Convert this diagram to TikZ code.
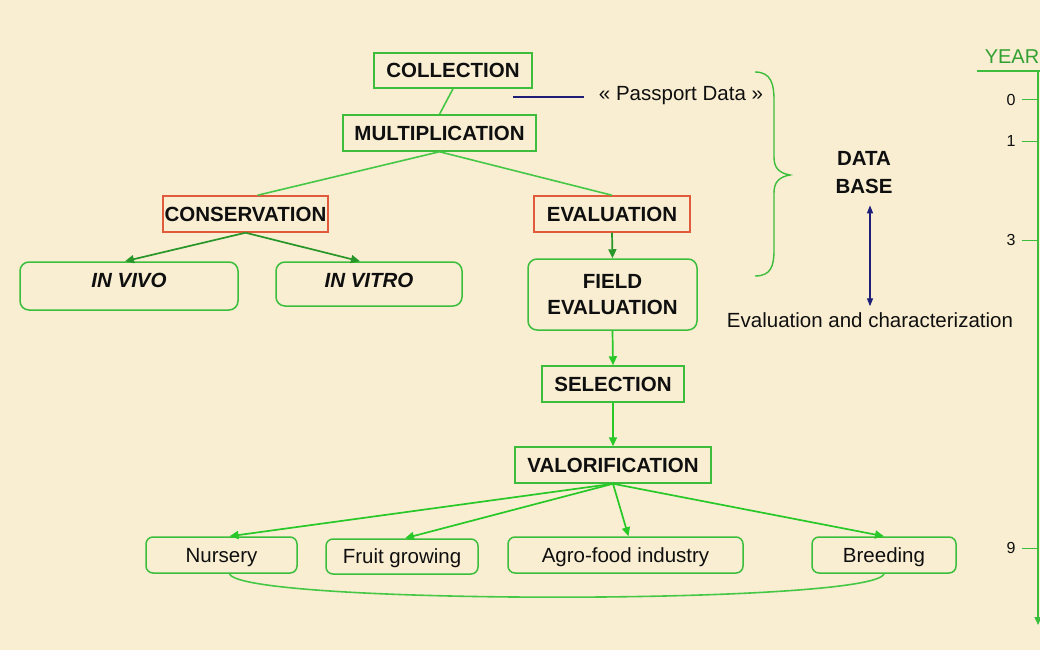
\documentclass[tikz,border=0pt]{standalone}
\usepackage{fontspec}
\setmainfont{Liberation Sans}
\usetikzlibrary{arrows.meta}
\definecolor{bg}{RGB}{249,238,210}
\definecolor{boxgreen}{RGB}{60,190,60}
\definecolor{boxred}{RGB}{225,90,60}
\definecolor{lgreen}{RGB}{70,200,70}
\definecolor{dgreen}{RGB}{40,150,40}
\definecolor{bgreen}{RGB}{40,200,40}
\definecolor{navy}{RGB}{30,30,120}
\definecolor{ink}{RGB}{15,15,15}
\definecolor{yeargreen}{RGB}{50,160,50}
\begin{document}
\begin{tikzpicture}[x=1pt,y=-1pt,
  box/.style={draw=boxgreen, line width=1.5pt, inner sep=0pt, text=ink,
    font=\fontsize{20.5}{26}\selectfont\bfseries, text height=14.5pt, text depth=0pt},
  redbox/.style={box, draw=boxred},
  rbox/.style={box, rounded corners=9pt},
  leaf/.style={draw=boxgreen, line width=1.5pt, inner sep=0pt, text=ink, rounded corners=7pt,
    font=\fontsize{20.5}{24}\selectfont, text height=14.5pt, text depth=0pt},
  plain/.style={inner sep=0pt, text=ink, font=\fontsize{20.5}{24}\selectfont},
  tick/.style={inner sep=0pt, text=ink, font=\fontsize{16}{18}\selectfont},
  link/.style={draw=lgreen, line width=1.6pt},
  arr/.style={line width=1.7pt, -{Triangle[length=9pt,width=8pt]}},
  darr/.style={arr, draw=dgreen, fill=dgreen},
  barr/.style={arr, draw=bgreen, fill=bgreen},
  navyline/.style={draw=navy, line width=1.4pt},
  axis/.style={draw=boxgreen, line width=1.4pt}
]
\fill[bg] (0,0) rectangle (1040,650);
\useasboundingbox (0,0) rectangle (1040,650);

% main chain
\node[box, minimum width=158pt, minimum height=35pt] (coll) at (453,70.5) {COLLECTION};
\node[box, minimum width=193pt, minimum height=36pt] (mult) at (439.5,133) {MULTIPLICATION};
\node[redbox, minimum width=165pt, minimum height=36pt] (cons) at (245.5,214) {CONSERVATION};
\node[redbox, minimum width=156pt, minimum height=36pt] (eval) at (612,214) {EVALUATION};
\node[rbox, font=\fontsize{20.5}{26}\selectfont\bfseries\itshape, minimum width=218pt,
  text height=25pt, text depth=23pt] (vivo) at (129,286) {IN VIVO};
\node[rbox, font=\fontsize{20.5}{26}\selectfont\bfseries\itshape, minimum width=186pt,
  text height=25pt, text depth=19pt] (vitro) at (369,284) {IN VITRO};
\node[rbox, align=center, minimum width=169pt, minimum height=71pt, text height=, text depth=]
  (field) at (612.5,294.5) {FIELD\\EVALUATION};
\node[box, minimum width=142pt, minimum height=36pt] (sel) at (613,384) {SELECTION};
\node[box, minimum width=196pt, minimum height=36pt] (valo) at (613,465) {VALORIFICATION};

% leaves
\node[leaf, minimum width=151pt, minimum height=36pt] (nurs) at (221.5,555) {Nursery};
\node[leaf, minimum width=152pt, minimum height=35pt] (fruit) at (402,556.5) {Fruit growing};
\node[leaf, minimum width=235pt, minimum height=36pt] (agro) at (625.5,555) {Agro-food industry};
\node[leaf, minimum width=144pt, minimum height=36pt] (breed) at (884,555) {Breeding};

% connectors
\draw[link] (coll.south) -- (mult.north);
\draw[link] (mult.south) -- ([xshift=12pt]cons.north);
\draw[link] (mult.south) -- (eval.north);
\draw[darr] (cons.south) -- ([xshift=-4pt]vivo.north);
\draw[darr] (cons.south) -- ([xshift=-9pt]vitro.north);
\draw[darr] (eval.south) -- (field.north);
\draw[barr] (field.south) -- (sel.north);
\draw[barr] (sel.south) -- (valo.north);
\draw[barr] (valo.south) -- ([xshift=8pt]nurs.north);
\draw[barr] (valo.south) -- ([xshift=3pt]fruit.north);
\draw[barr] (valo.south) -- ([xshift=3pt]agro.north);
\draw[barr] (valo.south) -- (breed.north);
\draw[link] ([xshift=8pt]nurs.south) .. controls (240,605) and (875,605) .. (breed.south);

% passport data
\node[plain] (pp) at (681,96) {« Passport Data »};
\coordinate (ppl) at (513,97);
\draw[navyline] (ppl) -- ([xshift=-15pt]pp.west |- ppl);

% brace
\draw[draw=boxgreen, line width=1.4pt]
  (755,72) .. controls (771,72) and (774,84) .. (774,100) -- (774,157)
  .. controls (774,168) and (779,173) .. (790,175)
  .. controls (779,177) and (774,182) .. (774,193) -- (774,250)
  .. controls (774,266) and (771,276) .. (755,276);

% data base
\node[plain, font=\fontsize{20.5}{28}\selectfont\bfseries, align=center] (db) at (864,173) {DATA\\BASE};
\node[plain] (ec) at (870,320) {Evaluation and characterization};
\draw[navyline, {Triangle[length=8pt,width=6pt]}-{Triangle[length=8pt,width=6pt]}, fill=navy]
  ([yshift=-11pt]ec.north |- db.south) -- ([yshift=6pt]ec.north);

% timeline
\node[inner sep=0pt, text=yeargreen, font=\fontsize{20}{24}\selectfont] (year) at (1012,57) {YEAR};
\coordinate (ul) at (977,71);
\coordinate (axtop) at (1038,71);
\coordinate (axbot) at (1038,625);
\draw[axis] (ul) -- (1040,71);
\draw[axis, -{Triangle[length=8pt,width=7pt]}, fill=boxgreen] (axtop) -- (axbot);
\node[tick] (t0) at (1011,100) {0};
\node[tick] (t1) at (1011,141) {1};
\node[tick] (t3) at (1011,240) {3};
\node[tick] (t9) at (1011,548) {9};
\foreach \t in {t0,t1,t3,t9}
  \draw[axis, line width=1pt] ([xshift=6pt]\t.east) -- (\t.east -| axtop);
\end{tikzpicture}
\end{document}
